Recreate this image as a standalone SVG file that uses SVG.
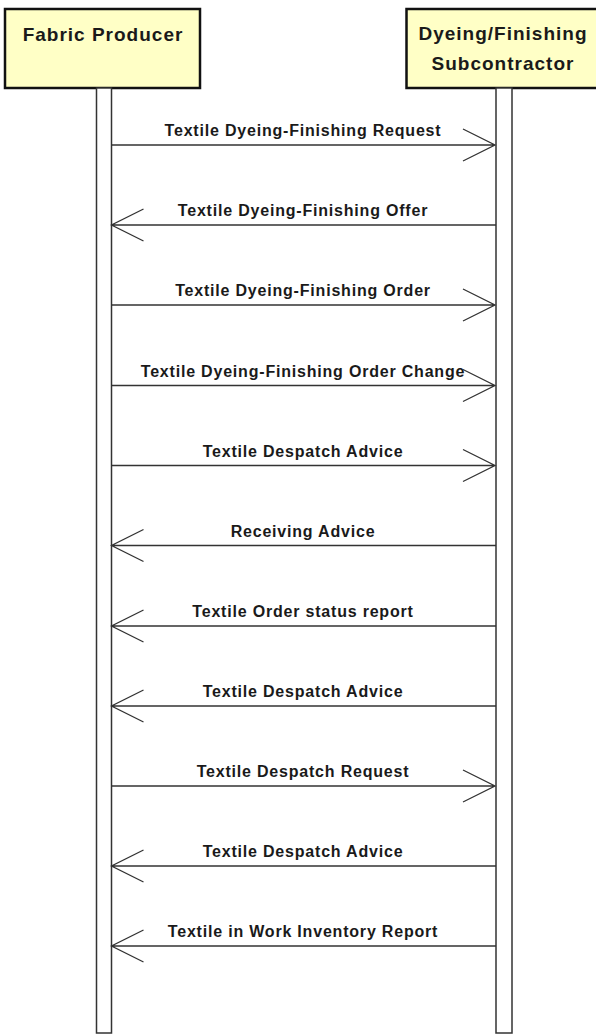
<svg xmlns="http://www.w3.org/2000/svg" width="596" height="1035" viewBox="0 0 596 1035">
<style>
.actor{fill:#ffffc6;stroke:#111;stroke-width:2.5}
.head{font-family:"Liberation Sans",Arial,sans-serif;font-weight:bold;font-size:19px;letter-spacing:1px;fill:#1a1a1a;text-anchor:middle}
.life{fill:#fff;stroke:#333;stroke-width:1.5}
.msg{stroke:#333;stroke-width:1.3;fill:none}
.lbl{font-family:"Liberation Sans",Arial,sans-serif;font-weight:bold;font-size:16px;letter-spacing:0.8px;fill:#1a1a1a;text-anchor:middle}
</style>
<rect width="596" height="1035" fill="#fff"/>
<g id="fabric-producer">
<rect class="actor" x="5" y="9" width="195" height="79"/>
<text class="head" x="103" y="41">Fabric Producer</text>
<rect class="life" x="96.5" y="88" width="15" height="945"/>
</g>
<g id="dyeing-subcontractor">
<rect class="actor" x="406.5" y="9" width="196" height="79"/>
<text class="head" x="503" y="40">Dyeing/Finishing</text>
<text class="head" x="503" y="70">Subcontractor</text>
<rect class="life" x="496" y="88" width="16" height="945"/>
</g>
<g id="connectors">
<g id="m1"><path class="msg" d="M111.5 145H495M463 129L495 145L463 161"/><text class="lbl" x="303" y="136">Textile Dyeing-Finishing Request</text></g>
<g id="m2"><path class="msg" d="M496 225H111.5M143.5 209L111.5 225L143.5 241"/><text class="lbl" x="303" y="216">Textile Dyeing-Finishing Offer</text></g>
<g id="m3"><path class="msg" d="M111.5 305H495M463 289L495 305L463 321"/><text class="lbl" x="303" y="296">Textile Dyeing-Finishing Order</text></g>
<g id="m4"><path class="msg" d="M111.5 385.5H495M463 369.5L495 385.5L463 401.5"/><text class="lbl" x="303" y="376.5">Textile Dyeing-Finishing Order Change</text></g>
<g id="m5"><path class="msg" d="M111.5 465.5H495M463 449.5L495 465.5L463 481.5"/><text class="lbl" x="303" y="456.5">Textile Despatch Advice</text></g>
<g id="m6"><path class="msg" d="M496 545.5H111.5M143.5 529.5L111.5 545.5L143.5 561.5"/><text class="lbl" x="303" y="536.5">Receiving Advice</text></g>
<g id="m7"><path class="msg" d="M496 626H111.5M143.5 610L111.5 626L143.5 642"/><text class="lbl" x="303" y="617">Textile Order status report</text></g>
<g id="m8"><path class="msg" d="M496 706H111.5M143.5 690L111.5 706L143.5 722"/><text class="lbl" x="303" y="697">Textile Despatch Advice</text></g>
<g id="m9"><path class="msg" d="M111.5 786H495M463 770L495 786L463 802"/><text class="lbl" x="303" y="777">Textile Despatch Request</text></g>
<g id="m10"><path class="msg" d="M496 866H111.5M143.5 850L111.5 866L143.5 882"/><text class="lbl" x="303" y="857">Textile Despatch Advice</text></g>
<g id="m11"><path class="msg" d="M496 946H111.5M143.5 930L111.5 946L143.5 962"/><text class="lbl" x="303" y="937">Textile in Work Inventory Report</text></g>
</g>
</svg>
